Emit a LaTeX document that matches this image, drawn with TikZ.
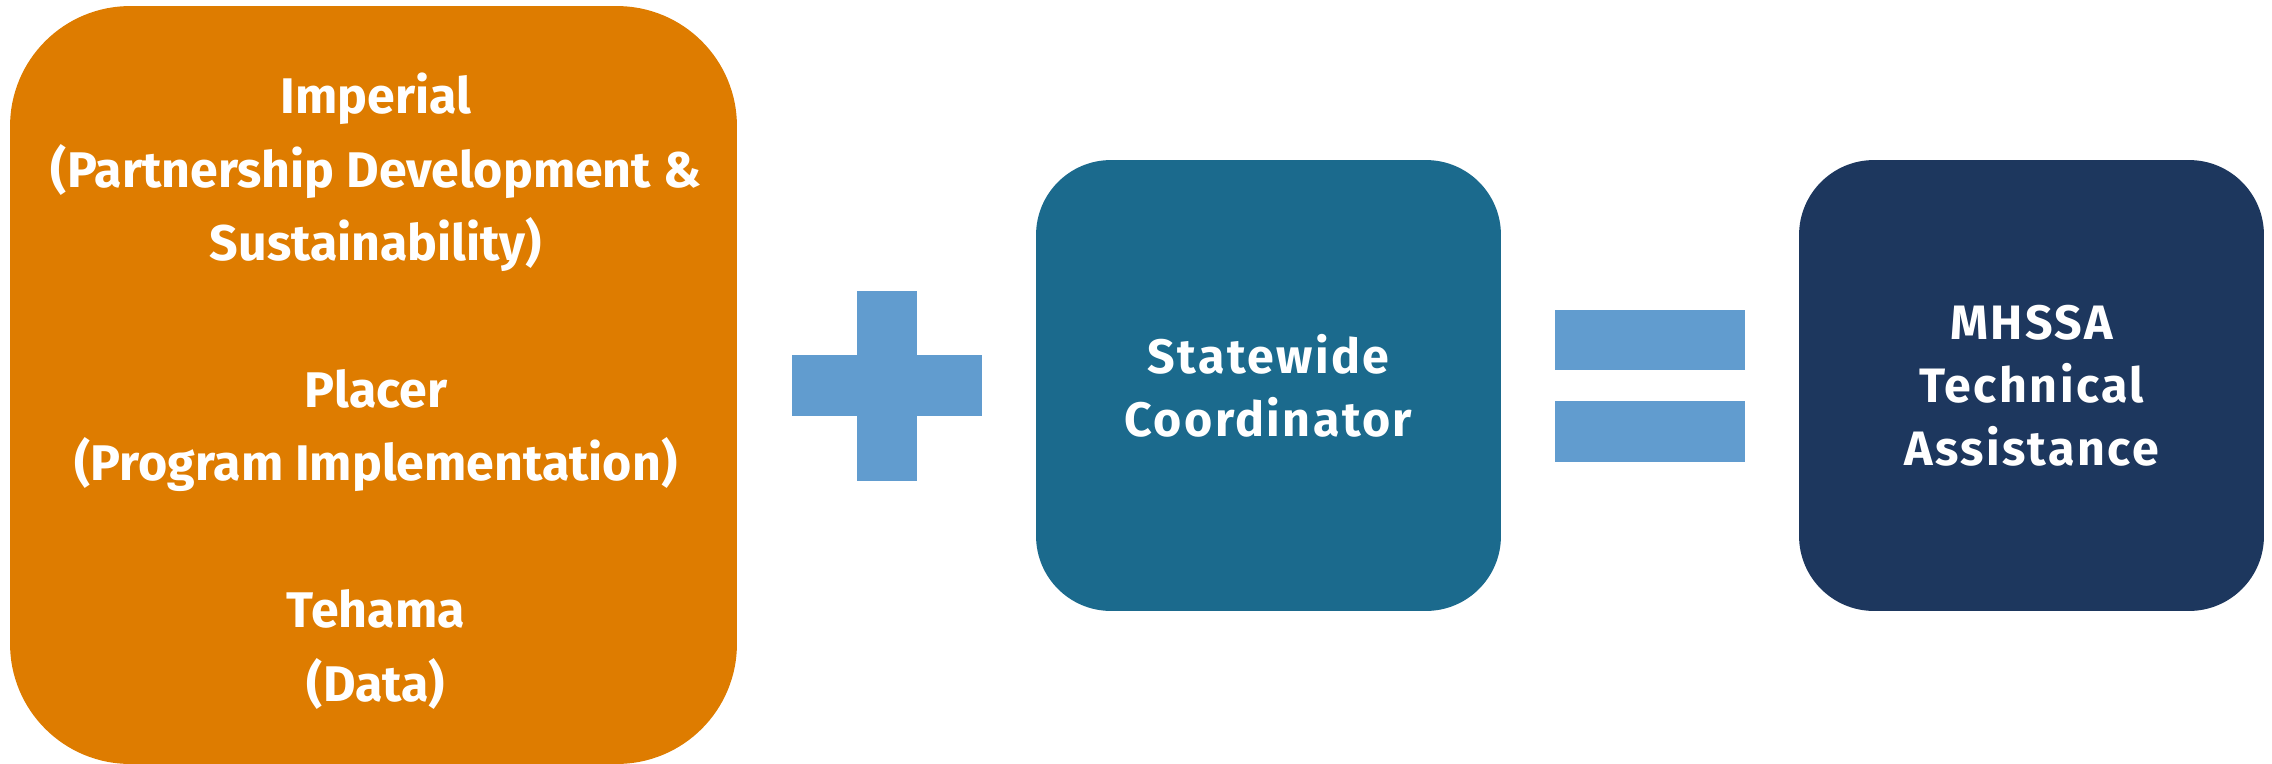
\documentclass[tikz,border=0pt]{standalone}
\usepackage{fontspec}
\usepackage{xcolor}
\usepackage{tikz}
\usetikzlibrary{positioning,calc}
\newfontfamily\countyfont{Fira Sans}
\newfontfamily\boxfont{Fira Sans}[LetterSpace=5]
\definecolor{countyorange}{HTML}{DE7C00}
\definecolor{stateteal}{HTML}{1B6A8D}
\definecolor{tanavy}{HTML}{1D375E}
\definecolor{signblue}{HTML}{619CCF}
\tikzset{
  countybox/.style={
    rectangle,
    rounded corners=2.4cm,
    fill=countyorange,
    inner sep=0pt,
    minimum width=14.54cm,
    minimum height=15.16cm},
  countytext/.style={
    text=white,
    inner sep=0pt,
    align=center,
    font=\countyfont\bfseries\fontsize{28.5}{41.8}\selectfont},
  resultbox/.style={
    rectangle,
    rounded corners=1.5cm,
    text=white,
    inner sep=0pt,
    minimum width=9.3cm,
    minimum height=9.02cm,
    align=center,
    font=\boxfont\bfseries\fontsize{27.5}{35.9}\selectfont},
  sign/.style={fill=signblue, draw=none}
}
\begin{document}
\begin{tikzpicture}[x=0.02cm, y=-0.02cm]
    \useasboundingbox (0,0) rectangle (2272,764);

    \node[countybox] (county) at (373.5,385) {};
    \node[countytext] (countylabel) at ($(county.center)+(2.5,6)$)
        {Imperial\\(Partnership Development \&\\Sustainability)\\[41.8pt]%
         Placer\\(Program Implementation)\\[41.8pt]%
         Tehama\\(Data)};

    \node[resultbox, fill=stateteal] (state) at (1268.5,385.5)
        {Statewide\\Coordinator};

    \node[resultbox, fill=tanavy] (mhssa) at (2031.5,385.5)
        {MHSSA\\Technical\\Assistance};

    %%% plus
    \coordinate (P1) at (857,291);
    \coordinate (P2) at (917,481);
    \coordinate (P3) at (792,355);
    \coordinate (P4) at (982,416);
    \fill[sign] (P1) rectangle (P2);
    \fill[sign] (P3) rectangle (P4);

    %%% equals
    \coordinate (E1) at (1555,310);
    \coordinate (E2) at (1745,370);
    \coordinate (E3) at (1555,401);
    \coordinate (E4) at (1745,462);
    \fill[sign] (E1) rectangle (E2);
    \fill[sign] (E3) rectangle (E4);
\end{tikzpicture}
\end{document}
